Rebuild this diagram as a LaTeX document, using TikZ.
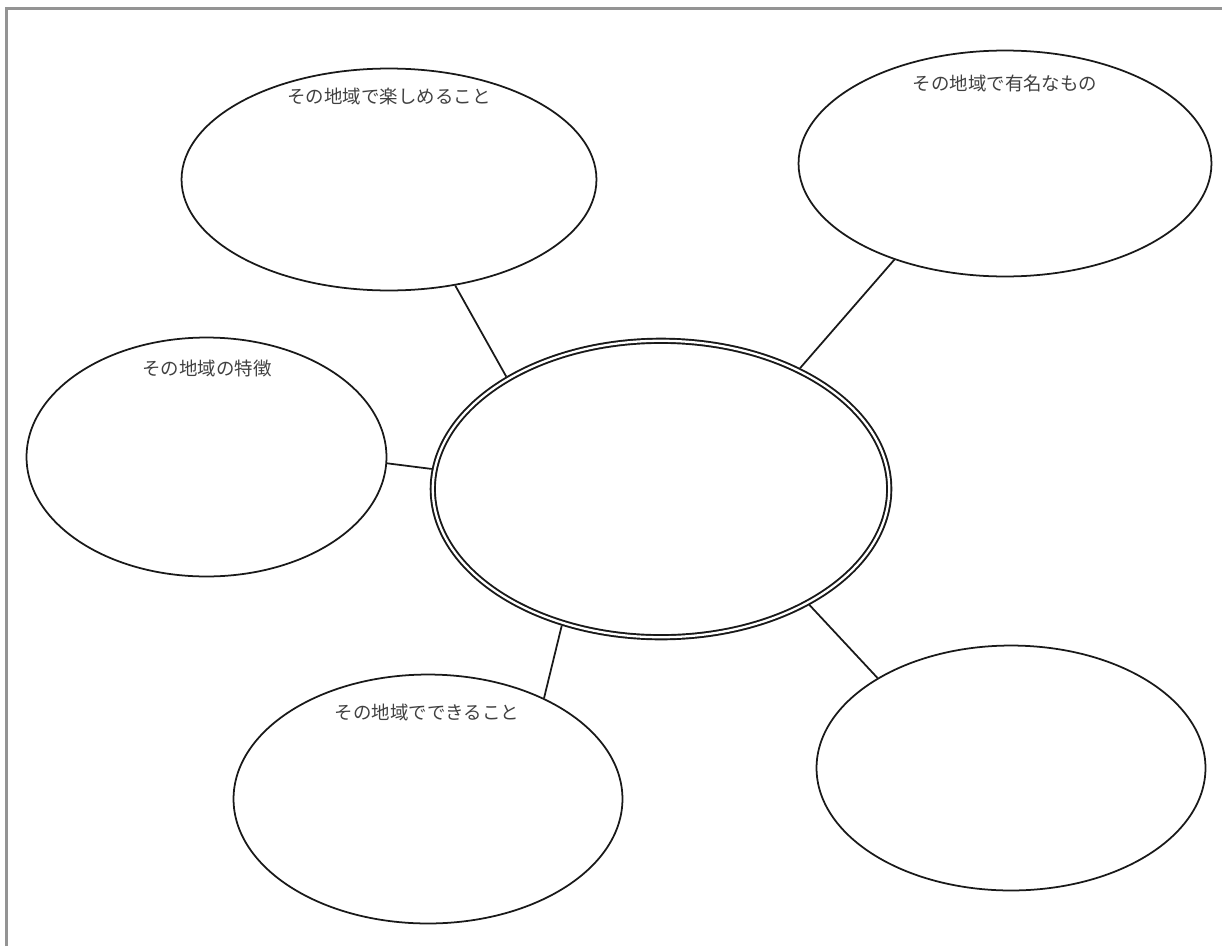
\documentclass[tikz,border=0pt]{standalone}
\usepackage{fontspec}
\newfontfamily\jpfont{Noto Sans CJK JP}
\usetikzlibrary{shapes.geometric}
\begin{document}
\begin{tikzpicture}[x=0.02cm,y=-0.02cm,
  bubble/.style={ellipse, draw=black!90, line width=1pt, inner sep=0pt},
  hub/.style={ellipse, draw=black!90, line width=1.1pt, double, double distance=1.3pt, inner sep=0pt, outer sep=1.75pt},
  link/.style={draw=black!90, line width=1pt},
  caption/.style={font=\jpfont\fontsize{10.5pt}{12pt}\selectfont, text=black!75, inner sep=0pt},
  frame/.style={draw=black!42, line width=1.8pt}]
\useasboundingbox (0,0) rectangle (1222,946);
\coordinate (fa) at (6.5,946);
\coordinate (fb) at (6.5,8.5);
\coordinate (fc) at (1222,8.5);
\draw[frame] (fa) -- (fb) -- (fc);

\node[hub, minimum width=9.13cm, minimum height=5.93cm] (c) at (661,489) {};
\node[bubble, minimum width=8.3cm, minimum height=4.44cm] (tl) at (389,179.5) {};
\node[bubble, minimum width=8.26cm, minimum height=4.52cm] (tr) at (1005,163.5) {};
\node[bubble, minimum width=7.2cm, minimum height=4.78cm] (l) at (206.5,457) {};
\node[bubble, minimum width=7.78cm, minimum height=4.98cm] (bl) at (428,799) {};
\node[bubble, minimum width=7.78cm, minimum height=4.9cm] (br) at (1011,768) {};

\node[caption] (ttl) at (389,96.5) {その地域で楽しめること};
\node[caption] (ttr) at (1005,83.5) {その地域で有名なもの};
\node[caption] (tl2) at (207,368.5) {その地域の特徴};
\node[caption] (tbl) at (427,712) {その地域でできること};

\draw[link] (tl.-58) -- (c.144);
\draw[link] (tr.-139) -- (c.41.7);
\draw[link] (l.-2.8) -- (c.175.8);
\draw[link] (bl.41.5) -- (c.-126.4);
\draw[link] (br.146.4) -- (c.-38.2);
\end{tikzpicture}
\end{document}
